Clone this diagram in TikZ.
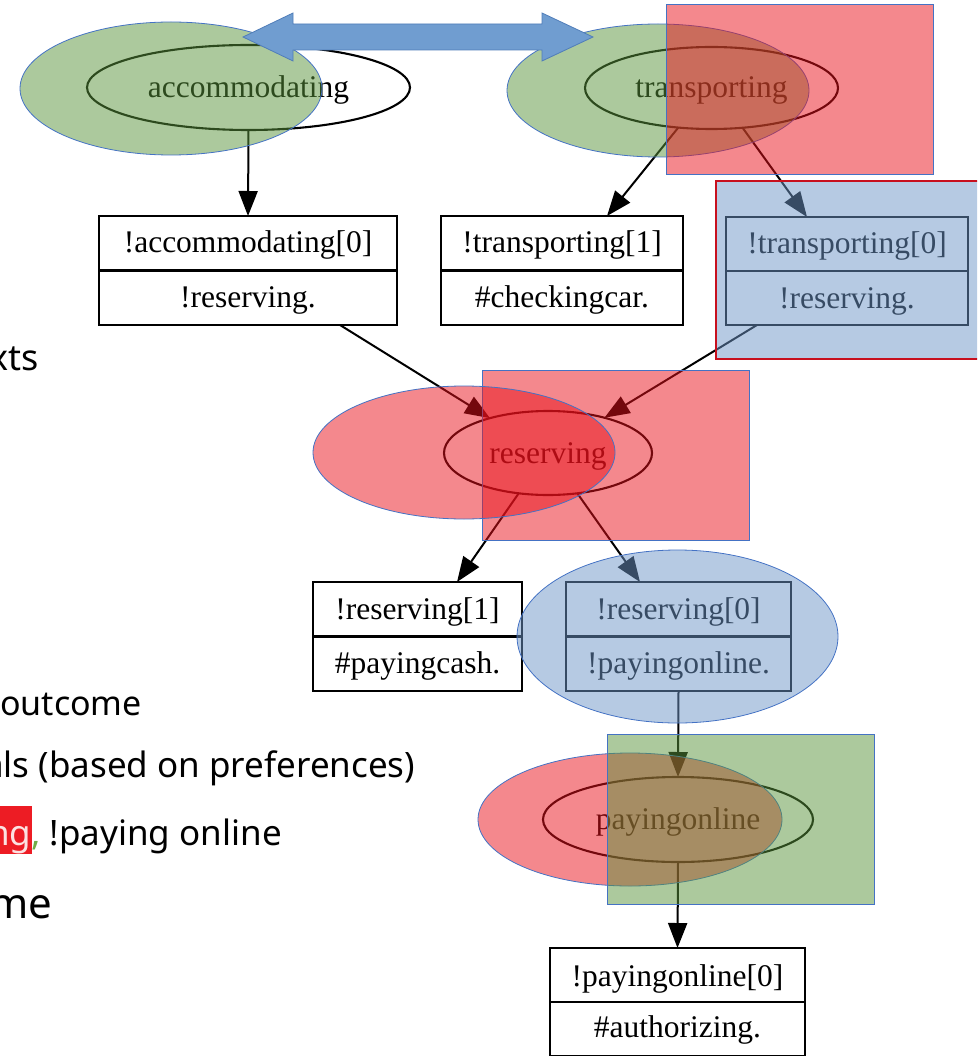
\documentclass[tikz,border=0pt]{standalone}
\usepackage{fontspec}
\setmainfont{Liberation Serif}
\newfontfamily\notosans{Noto Sans}
\usetikzlibrary{arrows.meta,shapes.geometric}
\definecolor{ovgreen}{RGB}{90,148,60}
\definecolor{ovred}{RGB}{233,17,27}
\definecolor{ovblue}{RGB}{110,150,200}
\definecolor{ovline}{RGB}{68,114,196}
\definecolor{dblue}{RGB}{112,157,208}
\definecolor{dblueline}{RGB}{80,125,185}
\definecolor{hlred}{RGB}{237,28,36}
\definecolor{hltext}{RGB}{252,225,225}
\definecolor{commagreen}{RGB}{112,173,71}
\definecolor{bordred}{RGB}{200,16,30}
\begin{document}
\begin{tikzpicture}[x=1pt,y=-1pt,
  gvell/.style={ellipse, draw=black, line width=2.1pt, inner sep=0pt, outer sep=0pt},
  gvbox/.style={rectangle, draw=black, line width=2.1pt, inner sep=0pt, outer sep=0pt},
  lbl/.style={anchor=base, inner sep=0pt, font=\fontsize{31.5}{36}\selectfont},
  gvedge/.style={draw=black, line width=2pt, -{Triangle[length=25pt,width=19pt]}},
  sidetxt/.style={anchor=base west, inner sep=0pt, font=\notosans\fontsize{34}{40}\selectfont},
  ovl/.style={line width=0.8pt, draw=ovline, fill opacity=0.5},
]
\useasboundingbox (0,0) rectangle (977,1056);
\clip (0,0) rectangle (977,1056);

% ---------- graph layer ----------
\node[gvell, minimum width=323pt, minimum height=85pt] (acc) at (248.5,87.5) {};
\node[lbl] (accl) at (248.5,97.5) {accommodating};
\node[gvell, minimum width=253pt, minimum height=82pt] (trans) at (711.5,88) {};
\node[lbl] (transl) at (711.5,97.5) {transporting};
\node[gvell, minimum width=208pt, minimum height=84pt] (res) at (548,453) {};
\node[lbl] (resl) at (548,463) {reserving};
\node[gvell, minimum width=270pt, minimum height=85pt] (pay) at (678,819.5) {};
\node[lbl] (payl) at (678,829) {payingonline};

\node[gvbox, minimum width=298pt, minimum height=109pt] (b1) at (248,270.5) {};
\node[gvbox, minimum width=242pt, minimum height=109pt] (b2) at (562,270.5) {};
\node[gvbox, minimum width=242pt, minimum height=108pt] (b3) at (847,271) {};
\node[gvbox, minimum width=209pt, minimum height=109pt] (b4) at (417.5,636.5) {};
\node[gvbox, minimum width=225pt, minimum height=109pt] (b5) at (678.5,636.5) {};
\node[gvbox, minimum width=255pt, minimum height=108pt] (b6) at (677.5,1002) {};
\foreach \b in {b1,b2,b3,b4,b5,b6} \draw[line width=2.1pt] (\b.west) -- (\b.east);

\node[lbl] (b1a) at (248,253) {!accommodating[0]};
\node[lbl] (b1b) at (248,307) {!reserving.};
\node[lbl] (b2a) at (562,253) {!transporting[1]};
\node[lbl] (b2b) at (562,307) {\#checkingcar.};
\node[lbl] (b3a) at (847,254) {!transporting[0]};
\node[lbl] (b3b) at (847,308) {!reserving.};
\node[lbl] (b4a) at (417.5,619) {!reserving[1]};
\node[lbl] (b4b) at (417.5,673) {\#payingcash.};
\node[lbl] (b5a) at (678.5,619) {!reserving[0]};
\node[lbl] (b5b) at (678.5,673) {!payingonline.};
\node[lbl] (b6a) at (677.5,986) {!payingonline[0]};
\node[lbl] (b6b) at (677.5,1037) {\#authorizing.};

\draw[gvedge] (acc.south) -- (b1.north);
\draw[gvedge] (trans.230) -- ([xshift=45pt]b2.north);
\draw[gvedge] (trans.308) -- ([xshift=-40pt]b3.north);
\draw[gvedge] ([xshift=92pt]b1.south) -- (res.149);
\draw[gvedge] ([xshift=-90pt]b3.south) -- (res.32);
\draw[gvedge] (res.234) -- ([xshift=39.5pt]b4.north);
\draw[gvedge] (res.306) -- ([xshift=-38.5pt]b5.north);
\draw[gvedge] (b5.south) -- (pay.north);
\draw[gvedge] (pay.south) -- (b6.north);

% ---------- overlay layer ----------
\path[ovl, fill=ovgreen] (171,88.5) ellipse [x radius=151pt, y radius=66.5pt];
\path[ovl, fill=ovgreen] (658,90.5) ellipse [x radius=151pt, y radius=66.5pt];
\path[ovl, fill=ovred] (666,4) rectangle (933,174);
\path[fill=ovblue, fill opacity=0.5] (716,181) rectangle (990,359);
\draw[bordred, line width=2pt] (716,181) rectangle (990,359);
\path[ovl, fill=ovred] (482,370) rectangle (749,540);
\path[ovl, fill=ovred] (464,452.5) ellipse [x radius=151pt, y radius=66.5pt];
\path[ovl, fill=ovblue] (677.5,636.5) ellipse [x radius=160.5pt, y radius=86.5pt];
\path[ovl, fill=ovred] (630,819.5) ellipse [x radius=152pt, y radius=66.5pt];
\path[ovl, fill=ovgreen] (607,734) rectangle (874,904);

\draw[fill=dblue, draw=dblueline, line width=0.8pt]
  (243,37) -- (293,13) -- (293,24) -- (542,24) -- (542,13) -- (593,37)
  -- (542,61) -- (542,50) -- (293,50) -- (293,61) -- cycle;

% ---------- side texts ----------
\node[sidetxt, font=\notosans\fontsize{36}{40}\selectfont] (t1) at (-11,370) {xts};
\node[sidetxt] (t2) at (0,715) {outcome};
\node[sidetxt, font=\notosans\fontsize{35}{40}\selectfont] (t3) at (-16,777) {als (based on preferences)};
\fill[hlred] (-5,806) rectangle (32,854);
\node[sidetxt, font=\notosans\fontsize{35}{40}\selectfont] (t4) at (-12,845) {{\color{hltext}ng}{\color{commagreen},} !paying online};
\node[sidetxt, font=\notosans\fontsize{42}{46}\selectfont] (t5) at (-10.5,918) {me};
\end{tikzpicture}
\end{document}
